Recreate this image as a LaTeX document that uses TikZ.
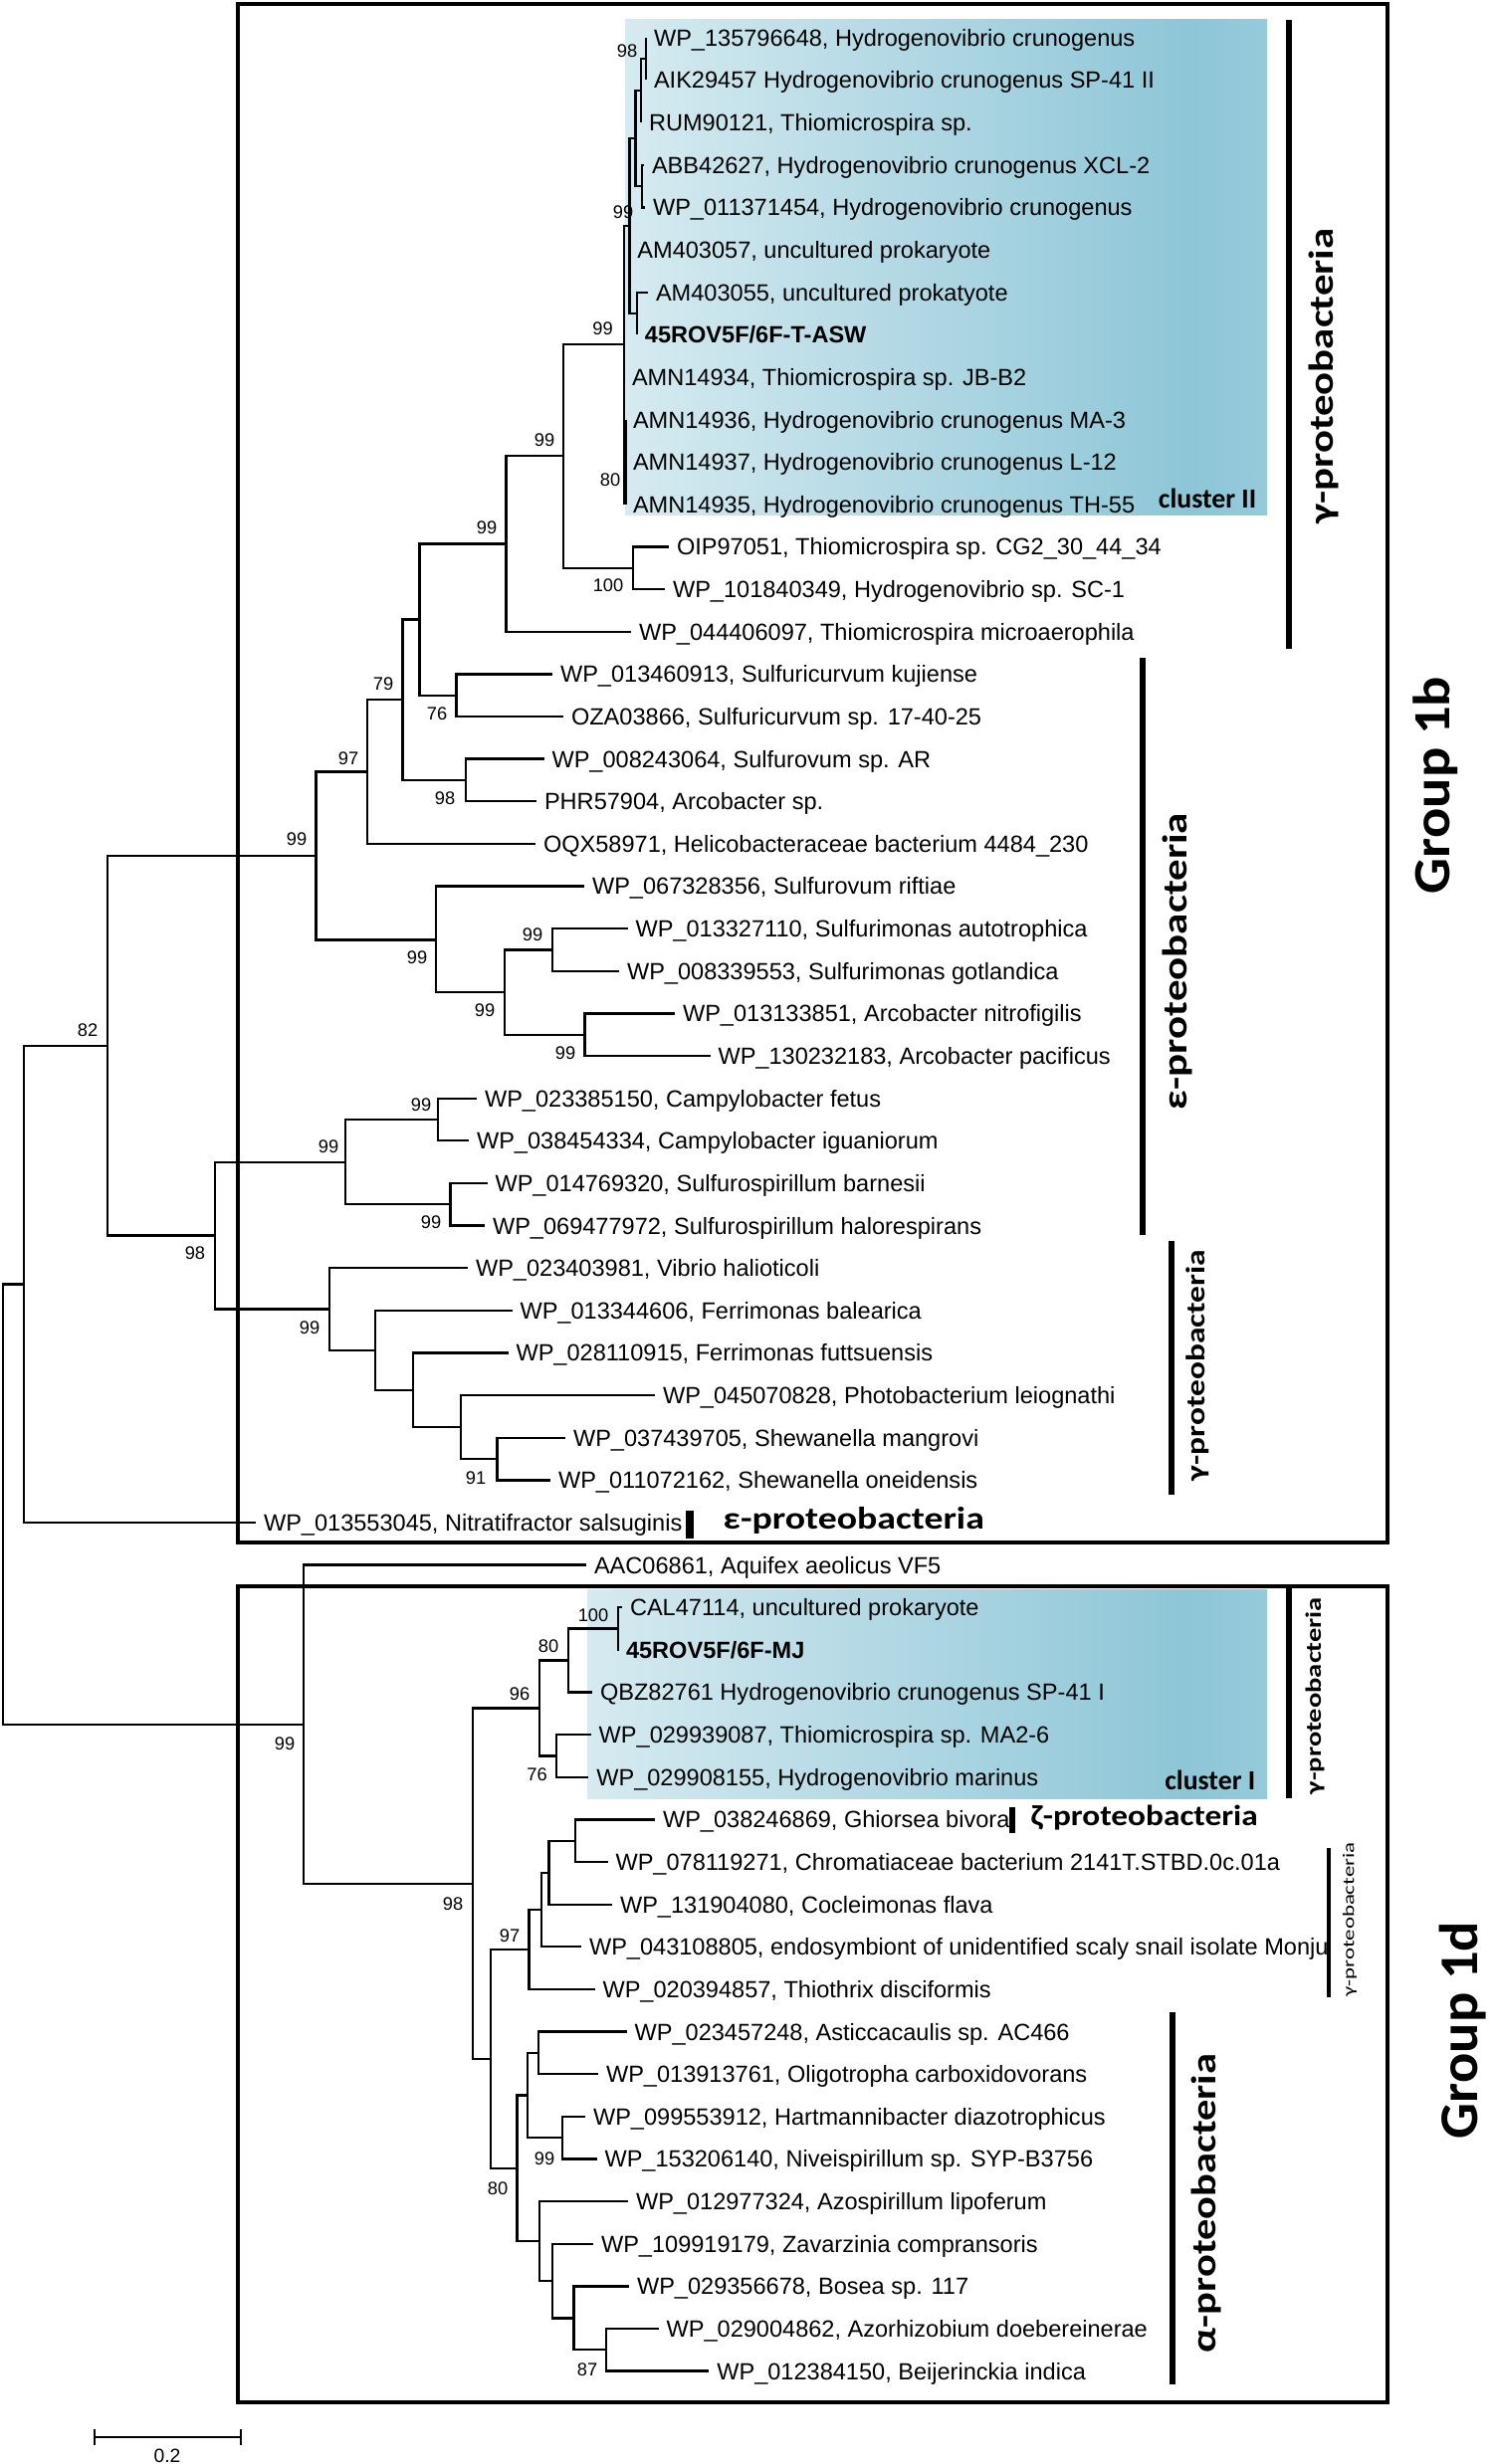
\documentclass[tikz,border=0pt]{standalone}
\usepackage{fontspec}
\usepackage{graphicx}
\setmainfont{Liberation Sans}
\newfontfamily\cladefont{Carlito}
\definecolor{shadeblue}{RGB}{142,198,215}
\definecolor{shadelight}{RGB}{180,220,231}
\pgfdeclarehorizontalshading{clustershade}{100bp}{color(0bp)=(white); color(69bp)=(shadeblue); color(100bp)=(shadelight)}
\newcommand{\cladetext}[3]{\resizebox*{#1}{#2}{\cladefont #3}}

\begin{document}
\begin{tikzpicture}[x=0.01cm,y=-0.01cm,
  leaf/.style={anchor=west,inner sep=0pt,outer sep=0.08cm,font=\fontsize{6.7}{8}\selectfont,text height=4.8pt,text depth=0pt},
  boldleaf/.style={leaf,font=\fontsize{6.7}{8}\selectfont\bfseries},
  boot/.style={inner sep=0pt,font=\fontsize{5.2}{6}\selectfont},
  branch/.style={line width=0.65pt},
  groupbox/.style={line width=1.3pt},
  cladebar/.style={line width=1.7pt},
  clade/.style={inner sep=0pt,rotate=90},
  flatclade/.style={inner sep=0pt,anchor=west},
  cluster/.style={inner sep=0pt,anchor=base east,font=\cladefont\bfseries\fontsize{7.9}{9}\selectfont}]
  \useasboundingbox (0,0) rectangle (1500,2476);

  \shade[shading=clustershade] (628,20) rectangle (1273,517);
  \shade[shading=clustershade] (590,1597) rectangle (1273,1807);
  \draw[groupbox] (239,4) rectangle (1394,1550);
  \draw[groupbox] (239,1594) rectangle (1394,2414);

  % taxa
  \node[leaf] (t1) at (649,37.9) {WP\_135796648, Hydrogenovibrio crunogenus};
  \node[leaf] (t2) at (649,80.5) {AIK29457 Hydrogenovibrio crunogenus SP-41 II};
  \node[leaf] (t3) at (644,123.2) {RUM90121, Thiomicrospira sp.};
  \node[leaf] (t4) at (647,165.8) {ABB42627, Hydrogenovibrio crunogenus XCL-2};
  \node[leaf] (t5) at (648,208.4) {WP\_011371454, Hydrogenovibrio crunogenus};
  \node[leaf] (t6) at (632.4,251.1) {AM403057, uncultured prokaryote};
  \node[leaf] (t7) at (651,293.7) {AM403055, uncultured prokatyote};
  \node[boldleaf] (t8) at (639.9,336.3) {45ROV5F/6F-T-ASW};
  \node[leaf] (t9) at (627,379.0) {AMN14934, Thiomicrospira sp. JB-B2};
  \node[leaf] (t10) at (628,421.6) {AMN14936, Hydrogenovibrio crunogenus MA-3};
  \node[leaf] (t11) at (628,464.2) {AMN14937, Hydrogenovibrio crunogenus L-12};
  \node[leaf] (t12) at (628,506.8) {AMN14935, Hydrogenovibrio crunogenus TH-55};
  \node[leaf] (t13) at (672,549.5) {OIP97051, Thiomicrospira sp. CG2\_30\_44\_34};
  \node[leaf] (t14) at (668,592.1) {WP\_101840349, Hydrogenovibrio sp. SC-1};
  \node[leaf] (t15) at (634,634.7) {WP\_044406097, Thiomicrospira microaerophila};
  \node[leaf] (t16) at (555,677.4) {WP\_013460913, Sulfuricurvum kujiense};
  \node[leaf] (t17) at (566,720.0) {OZA03866, Sulfuricurvum sp. 17-40-25};
  \node[leaf] (t18) at (546.5,762.6) {WP\_008243064, Sulfurovum sp. AR};
  \node[leaf] (t19) at (539,805.3) {PHR57904, Arcobacter sp.};
  \node[leaf] (t20) at (538,847.9) {OQX58971, Helicobacteraceae bacterium 4484\_230};
  \node[leaf] (t21) at (587,890.5) {WP\_067328356, Sulfurovum riftiae};
  \node[leaf] (t22) at (630.5,933.2) {WP\_013327110, Sulfurimonas autotrophica};
  \node[leaf] (t23) at (622,975.8) {WP\_008339553, Sulfurimonas gotlandica};
  \node[leaf] (t24) at (678,1018.4) {WP\_013133851, Arcobacter nitrofigilis};
  \node[leaf] (t25) at (713.5,1061.1) {WP\_130232183, Arcobacter pacificus};
  \node[leaf] (t26) at (479,1103.7) {WP\_023385150, Campylobacter fetus};
  \node[leaf] (t27) at (471,1146.3) {WP\_038454334, Campylobacter iguaniorum};
  \node[leaf] (t28) at (489.5,1189.0) {WP\_014769320, Sulfurospirillum barnesii};
  \node[leaf] (t29) at (487,1231.6) {WP\_069477972, Sulfurospirillum halorespirans};
  \node[leaf] (t30) at (470,1274.2) {WP\_023403981, Vibrio halioticoli};
  \node[leaf] (t31) at (514.5,1316.9) {WP\_013344606, Ferrimonas balearica};
  \node[leaf] (t32) at (510.5,1359.5) {WP\_028110915, Ferrimonas futtsuensis};
  \node[leaf] (t33) at (658,1402.1) {WP\_045070828, Photobacterium leiognathi};
  \node[leaf] (t34) at (568,1444.8) {WP\_037439705, Shewanella mangrovi};
  \node[leaf] (t35) at (553,1487.4) {WP\_011072162, Shewanella oneidensis};
  \node[leaf] (t36) at (257,1530.0) {WP\_013553045, Nitratifractor salsuginis};
  \node[leaf] (t37) at (589,1572.6) {AAC06861, Aquifex aeolicus VF5};
  \node[leaf] (t38) at (625,1615.3) {CAL47114, uncultured prokaryote};
  \node[boldleaf] (t39) at (621,1657.9) {45ROV5F/6F-MJ};
  \node[leaf] (t40) at (595,1700.5) {QBZ82761 Hydrogenovibrio crunogenus SP-41 I};
  \node[leaf] (t41) at (593.7,1743.2) {WP\_029939087, Thiomicrospira sp. MA2-6};
  \node[leaf] (t42) at (591.3,1785.8) {WP\_029908155, Hydrogenovibrio marinus};
  \node[leaf] (t43) at (658,1828.4) {WP\_038246869, Ghiorsea bivora};
  \node[leaf] (t44) at (610.5,1871.1) {WP\_078119271, Chromatiaceae bacterium 2141T.STBD.0c.01a};
  \node[leaf] (t45) at (615,1913.7) {WP\_131904080, Cocleimonas flava};
  \node[leaf] (t46) at (584,1956.3) {WP\_043108805, endosymbiont of unidentified scaly snail isolate Monju};
  \node[leaf] (t47) at (597.5,1999.0) {WP\_020394857, Thiothrix disciformis};
  \node[leaf] (t48) at (629.6,2041.6) {WP\_023457248, Asticcacaulis sp. AC466};
  \node[leaf] (t49) at (601,2084.2) {WP\_013913761, Oligotropha carboxidovorans};
  \node[leaf] (t50) at (588,2126.9) {WP\_099553912, Hartmannibacter diazotrophicus};
  \node[leaf] (t51) at (599.5,2169.5) {WP\_153206140, Niveispirillum sp. SYP-B3756};
  \node[leaf] (t52) at (631,2212.1) {WP\_012977324, Azospirillum lipoferum};
  \node[leaf] (t53) at (596,2254.8) {WP\_109919179, Zavarzinia compransoris};
  \node[leaf] (t54) at (632,2297.4) {WP\_029356678, Bosea sp. 117};
  \node[leaf] (t55) at (661.6,2340.0) {WP\_029004862, Azorhizobium doebereinerae};
  \node[leaf] (t56) at (712.3,2382.6) {WP\_012384150, Beijerinckia indica};

  % inner nodes
  \coordinate (n1) at (649,59.2);
  \coordinate (n2) at (644,91.2);
  \coordinate (n3) at (644.9,187.1);
  \coordinate (n4) at (638.6,139.2);
  \coordinate (n5) at (632.4,227.1);
  \coordinate (n6) at (639.9,315.0);
  \coordinate (n7) at (628,464.2);
  \coordinate (n8) at (627,345.7);
  \coordinate (n9) at (635.7,570.8);
  \coordinate (n10) at (566.1,458.3);
  \coordinate (n11) at (508.5,546.5);
  \coordinate (n12) at (458.5,698.7);
  \coordinate (n13) at (421.4,622.6);
  \coordinate (n14) at (404.5,703.3);
  \coordinate (n15) at (468.3,784.0);
  \coordinate (n16) at (368.75,775.6);
  \coordinate (n17) at (506.8,997.1);
  \coordinate (n18) at (554.9,954.5);
  \coordinate (n19) at (587.6,1039.8);
  \coordinate (n20) at (437.7,944.4);
  \coordinate (n21) at (317.4,860.3);
  \coordinate (n22) at (440.2,1125.0);
  \coordinate (n23) at (452.5,1210.3);
  \coordinate (n24) at (347.2,1167.7);
  \coordinate (n25) at (499.4,1466.1);
  \coordinate (n26) at (463,1434.1);
  \coordinate (n27) at (415.2,1396.8);
  \coordinate (n28) at (377,1356.9);
  \coordinate (n29) at (331,1315.5);
  \coordinate (n30) at (216,1241.6);
  \coordinate (n31) at (108,1051.0);
  \coordinate (n32) at (23.8,1290.5);
  \coordinate (m1) at (620.8,1636.6);
  \coordinate (m2) at (570.8,1668.6);
  \coordinate (m3) at (559,1764.5);
  \coordinate (m4) at (542.3,1716.5);
  \coordinate (z1) at (577.8,1849.8);
  \coordinate (z2) at (551.5,1881.7);
  \coordinate (z3) at (544.3,1919.0);
  \coordinate (z4) at (531.4,1959.0);
  \coordinate (b1) at (541,2062.9);
  \coordinate (b2) at (564.9,2148.2);
  \coordinate (a1) at (530,2105.6);
  \coordinate (a5) at (608.9,2361.3);
  \coordinate (a4) at (576.4,2329.4);
  \coordinate (a3) at (554.9,2292.1);
  \coordinate (a2) at (542,2252.1);
  \coordinate (a0) at (519.5,2178.9);
  \coordinate (z5) at (492.7,2069.0);
  \coordinate (m5) at (475,1892.8);
  \coordinate (m6) at (305,1732.7);
  \coordinate (root) at (3,1511.6);

  \draw[branch] (root) |- (n32) (root) |- (m6);
  \draw[branch] (n32) |- (n31) (n32) |- (t36);
  \draw[branch] (n31) |- (n21) (n31) |- (n30);
  \draw[branch] (n21) |- (n16) (n21) |- (n20);
  \draw[branch] (n16) |- (n14) (n16) |- (t20);
  \draw[branch] (n14) |- (n13) (n14) |- (n15);
  \draw[branch] (n15) |- (t18) (n15) |- (t19);
  \draw[branch] (n13) |- (n11) (n13) |- (n12);
  \draw[branch] (n12) |- (t16) (n12) |- (t17);
  \draw[branch] (n11) |- (n10) (n11) |- (t15);
  \draw[branch] (n10) |- (n8) (n10) |- (n9);
  \draw[branch] (n9) |- (t13) (n9) |- (t14);
  \draw[branch] (n8) |- (n5) (n8) |- (t9) (n8) |- (n7);
  \draw[branch] (n7) |- (t10) (n7) |- (t11) (n7) |- (t12);
  \draw[line width=1.2pt] (n7 |- t10) -- (n7 |- t12);
  \draw[branch] (n5) |- (n4) (n5) |- (t6) (n5) |- (n6);
  \draw[branch] (n6) |- (t7) (n6) |- (t8);
  \draw[branch] (n4) |- (n2) (n4) |- (n3);
  \draw[branch] (n3) |- (t4) (n3) |- (t5);
  \draw[branch] (n2) |- (n1) (n2) |- (t3);
  \draw[branch] (n1) |- (t1) (n1) |- (t2);
  \draw[branch] (n20) |- (t21) (n20) |- (n17);
  \draw[branch] (n17) |- (n18) (n17) |- (n19);
  \draw[branch] (n18) |- (t22) (n18) |- (t23);
  \draw[branch] (n19) |- (t24) (n19) |- (t25);
  \draw[branch] (n30) |- (n24) (n30) |- (n29);
  \draw[branch] (n24) |- (n22) (n24) |- (n23);
  \draw[branch] (n22) |- (t26) (n22) |- (t27);
  \draw[branch] (n23) |- (t28) (n23) |- (t29);
  \draw[branch] (n29) |- (t30) (n29) |- (n28);
  \draw[branch] (n28) |- (t31) (n28) |- (n27);
  \draw[branch] (n27) |- (t32) (n27) |- (n26);
  \draw[branch] (n26) |- (t33) (n26) |- (n25);
  \draw[branch] (n25) |- (t34) (n25) |- (t35);
  \draw[branch] (m6) |- (t37) (m6) |- (m5);
  \draw[branch] (m5) |- (m4) (m5) |- (z5);
  \draw[branch] (m4) |- (m2) (m4) |- (m3);
  \draw[branch] (m2) |- (m1) (m2) |- (t40);
  \draw[branch] (m1) |- (t38) (m1) |- (t39);
  \draw[branch] (m3) |- (t41) (m3) |- (t42);
  \draw[branch] (z5) |- (z4) (z5) |- (a0);
  \draw[branch] (z4) |- (z3) (z4) |- (t47);
  \draw[branch] (z3) |- (z2) (z3) |- (t46);
  \draw[branch] (z2) |- (z1) (z2) |- (t45);
  \draw[branch] (z1) |- (t43) (z1) |- (t44);
  \draw[branch] (a0) |- (a1) (a0) |- (a2);
  \draw[branch] (a1) |- (b1) (a1) |- (b2);
  \draw[branch] (b1) |- (t48) (b1) |- (t49);
  \draw[branch] (b2) |- (t50) (b2) |- (t51);
  \draw[branch] (a2) |- (t52) (a2) |- (a3);
  \draw[branch] (a3) |- (t53) (a3) |- (a4);
  \draw[branch] (a4) |- (t54) (a4) |- (a5);
  \draw[branch] (a5) |- (t55) (a5) |- (t56);

  % bootstrap values
  \node[boot] (s1) at (630,51) {98};
  \node[boot] (s5) at (626,213) {99};
  \node[boot] (s8) at (605.5,330) {99};
  \node[boot] (s7) at (613,482) {80};
  \node[boot] (s9) at (611,588) {100};
  \node[boot] (s10) at (547,442) {99};
  \node[boot] (s11) at (489,530) {99};
  \node[boot] (s12) at (439,717) {76};
  \node[boot] (s14) at (385,687) {79};
  \node[boot] (s15) at (447,802) {98};
  \node[boot] (s16) at (350,762) {97};
  \node[boot] (s21) at (298,843) {99};
  \node[boot] (s20) at (419,962) {99};
  \node[boot] (s17) at (487,1015) {99};
  \node[boot] (s18) at (535,939.5) {99};
  \node[boot] (s19) at (568,1058) {99};
  \node[boot] (s22) at (423,1110) {99};
  \node[boot] (s23) at (433,1228) {99};
  \node[boot] (s24) at (330,1152) {99};
  \node[boot] (s25) at (478,1485) {91};
  \node[boot] (s29) at (311,1334) {99};
  \node[boot] (s30) at (196,1259) {98};
  \node[boot] (s31) at (88,1035) {82};
  \node[boot] (r1) at (596,1623) {100};
  \node[boot] (r2) at (551,1654) {80};
  \node[boot] (r3) at (539.5,1783) {76};
  \node[boot] (r4) at (522,1702) {96};
  \node[boot] (r5) at (512,1945) {97};
  \node[boot] (r6) at (547,2169) {99};
  \node[boot] (r7) at (590,2381) {87};
  \node[boot] (r8) at (500,2199) {80};
  \node[boot] (r9) at (455,1913) {98};
  \node[boot] (r10) at (286,1752) {99};

  % clade bars and names
  \draw[cladebar] (1295,20) -- (1295,652);
  \draw[cladebar] (1148,661) -- (1148,1241);
  \draw[cladebar] (1177,1247) -- (1177,1502);
  \draw[cladebar,line width=2pt] (693,1518) -- (693,1546);
  \draw[cladebar] (1295,1595) -- (1295,1807);
  \draw[cladebar] (1017,1816) -- (1017,1842);
  \draw[cladebar,line width=1.1pt] (1335,1857) -- (1335,2007);
  \draw[cladebar] (1178,2022) -- (1178,2396);
  \node[clade] (gam1) at (1330,378) {\cladetext{2.97cm}{0.30cm}{\bfseries γ-proteobacteria}};
  \node[clade] (eps1) at (1183,966) {\cladetext{2.98cm}{0.30cm}{\bfseries ε-proteobacteria}};
  \node[clade] (gam2) at (1203,1372) {\cladetext{2.32cm}{0.23cm}{\bfseries γ-proteobacteria}};
  \node[flatclade] (eps2) at (726,1528) {\cladetext{2.62cm}{0.27cm}{\bfseries ε-proteobacteria}};
  \node[clade] (gam3) at (1321,1704) {\cladetext{1.98cm}{0.19cm}{\bfseries γ-proteobacteria}};
  \node[flatclade] (zeta) at (1035,1827) {\cladetext{2.28cm}{0.25cm}{\bfseries ζ-proteobacteria}};
  \node[clade] (gam4) at (1356,1929) {\cladetext{1.55cm}{0.14cm}{γ-proteobacteria}};
  \node[clade] (alp) at (1212,2214) {\cladetext{3.00cm}{0.30cm}{\bfseries α-proteobacteria}};
  \node[cluster] (clII) at (1263,511) {cluster II};
  \node[cluster] (clI) at (1262,1798) {cluster I};
  \node[clade] (g1b) at (1442,789) {\cladetext{2.18cm}{0.45cm}{\bfseries Group 1b}};
  \node[clade] (g1d) at (1470,2040) {\cladetext{2.18cm}{0.47cm}{\bfseries Group 1d}};

  % scale
  \draw[branch] (95,2449) -- (242,2449);
  \draw[branch] (95,2441) -- (95,2457);
  \draw[branch] (242,2441) -- (242,2457);
  \node[boot,font=\fontsize{5.5}{6}\selectfont] (sc) at (168,2468) {0.2};
\end{tikzpicture}
\end{document}
